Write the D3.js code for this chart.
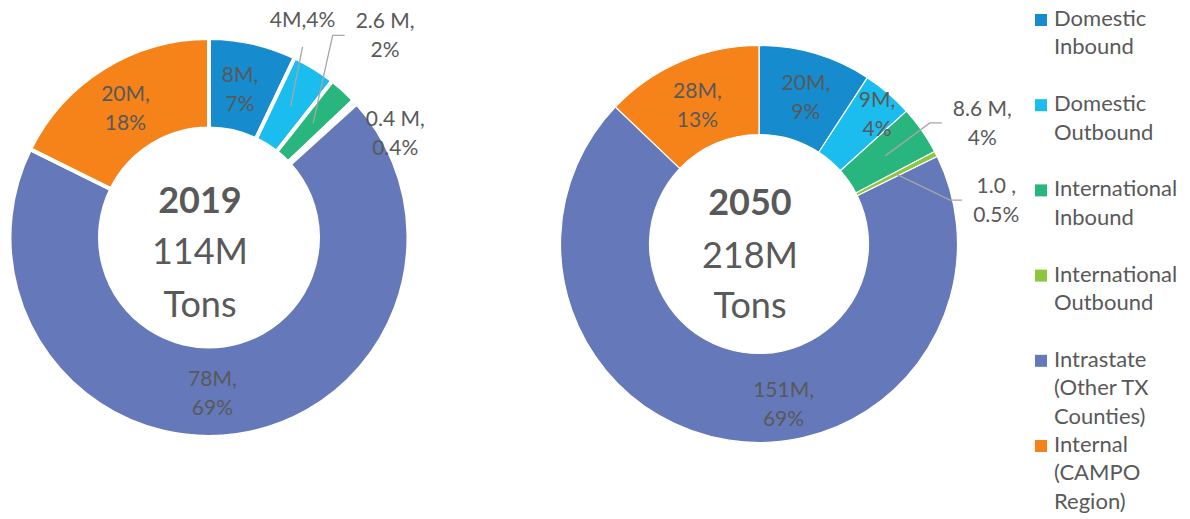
<!DOCTYPE html>
<html>
<head>
<meta charset="utf-8">
<script src="https://cdn.jsdelivr.net/npm/d3@7"></script>
<style>
  body { margin: 0; background: #fff; }
  text { font-family: Lato, "Open Sans", sans-serif; fill: #595959; }
</style>
</head>
<body>
<div id="chart"></div>
<script>
// data
const categories = ['Domestic Inbound', 'Domestic Outbound', 'International Inbound',
  'International Outbound', 'Intrastate (Other TX Counties)', 'Internal (CAMPO Region)'];
const legendLines = [['Domestic', 'Inbound'], ['Domestic', 'Outbound'], ['International', 'Inbound'],
  ['International', 'Outbound'], ['Intrastate', '(Other TX', 'Counties)'], ['Internal', '(CAMPO', 'Region)']];
const values2019 = [8, 4, 2.6, 0.4, 78, 20];
const values2050 = [20, 9, 8.6, 1.0, 151, 28];
const labels2019 = [['8M,', '7%'], ['4M,4%'], ['2.6 M,', '2%'], ['0.4 M,', '0.4%'], ['78M,', '69%'], ['20M,', '18%']];
const labels2050 = [['20M,', '9%'], ['9M,', '4%'], ['8.6 M,', '4%'], ['1.0 ,', '0.5%'], ['151M,', '69%'], ['28M,', '13%']];
const centerText2019 = ['2019', '114M', 'Tons'];
const centerText2050 = ['2050', '218M', 'Tons'];

const colors = ['#168bce', '#1bbdee', '#29b67e', '#8cc63e', '#6578b9', '#f58319'];

// layout
const w = 1190;
const h = 519;
const labelSize = 21;
const labelLh = 29;

const svg = d3.select('#chart').append('svg')
  .attr('width', w)
  .attr('height', h);

const color = d3.scaleOrdinal(categories, colors);

// label nudges from slice centroid, and leader style
const charts = [
  {
    values: values2019, labels: labels2019, center: centerText2019,
    cx: 209, cy: 237.5, outer: 199.5, inner: 109, stroke: 4, midR: 154.5,
    textX: -9, textY: [-24.5, 26.5, 79.5],
    nudge: [[-3, 2], [12, -87], [72, -88], [73, 0], [-18, 2], [-2, 1.5]],
    leader: [null, 'below', 'left', null, null, null],
  },
  {
    values: values2050, labels: labels2050, center: centerText2050,
    cx: 759, cy: 244, outer: 198.5, inner: 109.5, stroke: 1.2, midR: 154,
    textX: -9, textY: [-29, 24, 74],
    nudge: [[3, 1], [18, -13.5], [97, -33], [100, 26], [48, 8], [-1, 2.5]],
    leader: [null, null, 'left', 'left', null, null],
  },
];

const pie = d3.pie().sort(null).value((d) => d);

charts.forEach((c) => {
  const g = svg.append('g').attr('transform', `translate(${c.cx},${c.cy})`);
  const arcs = pie(c.values);
  const arc = d3.arc().innerRadius(c.inner).outerRadius(c.outer);
  const mid = d3.arc().innerRadius(c.midR).outerRadius(c.midR);

  g.selectAll('path.slice')
    .data(arcs)
    .enter()
    .append('path')
    .attr('class', 'slice')
    .attr('d', arc)
    .attr('fill', (d, i) => color(categories[i]))
    .attr('stroke', '#fff')
    .attr('stroke-width', c.stroke)
    .attr('stroke-linejoin', 'miter');

  // data labels
  arcs.forEach((d, i) => {
    const [mx, my] = mid.centroid(d);
    const lx = mx + c.nudge[i][0];
    const ly = my + c.nudge[i][1];
    const lines = c.labels[i];
    const y0 = ly - ((lines.length - 1) * labelLh) / 2 + labelSize * 0.36;
    const t = g.append('text')
      .attr('text-anchor', 'middle')
      .style('font-size', `${labelSize}px`);
    lines.forEach((s, k) => {
      t.append('tspan').attr('x', lx).attr('y', y0 + k * labelLh).text(s);
    });

    if (c.leader[i]) {
      const bb = t.node().getBBox();
      let pts;
      if (c.leader[i] === 'left') {
        const ex = bb.x - 11;
        pts = [[mx, my], [ex - 12, ly], [ex, ly]];
      } else {
        pts = [[mx, my], [lx, y0 + 20]];
      }
      g.insert('path', 'text')
        .attr('d', d3.line()(pts))
        .attr('fill', 'none')
        .attr('stroke', '#a6a6a6')
        .attr('stroke-width', 1.3);
    }
  });

  // centre text
  const ct = g.append('text').attr('text-anchor', 'middle').style('font-size', '36px');
  c.center.forEach((s, k) => {
    ct.append('tspan')
      .attr('x', c.textX)
      .attr('y', c.textY[k])
      .style('font-weight', k === 0 ? 'bold' : 'normal')
      .text(s);
  });
});

// legend
const legendX = 1035;
const legendY = 26;
const legendLh = 28.4;
const startLine = [0, 3, 6, 9, 12, 15];
const legend = svg.append('g').attr('id', 'legend');

categories.forEach((cat, i) => {
  const by = legendY + startLine[i] * legendLh;
  legend.append('rect')
    .attr('x', legendX)
    .attr('y', by - 12)
    .attr('width', 12)
    .attr('height', 12)
    .attr('fill', color(cat));
  const t = legend.append('text').style('font-size', '22px');
  legendLines[i].forEach((s, k) => {
    t.append('tspan').attr('x', legendX + 19).attr('y', by + k * legendLh).text(s);
  });
});
</script>
</body>
</html>
